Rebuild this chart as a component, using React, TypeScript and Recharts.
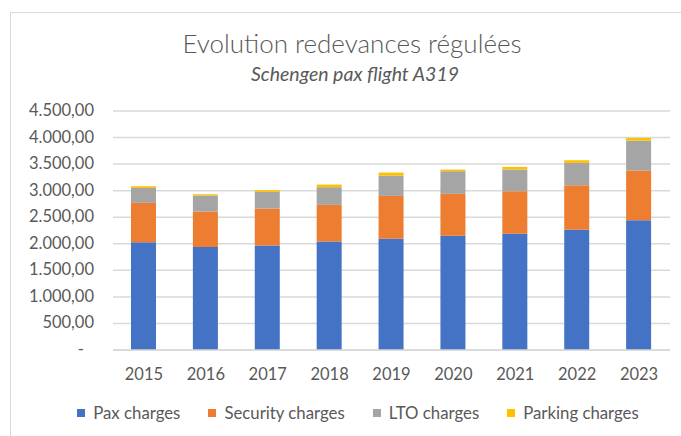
import { Bar, BarChart, CartesianGrid, XAxis, YAxis } from "recharts";

const years = ["2015", "2016", "2017", "2018", "2019", "2020", "2021", "2022", "2023"];
const paxCharges = [2030, 1937, 1969, 2044, 2093, 2150, 2188, 2263, 2445];
const securityCharges = [740, 671, 695, 689, 809, 790, 802, 840, 934];
const ltoCharges = [282, 301, 313, 332, 383, 426, 408, 419, 564];
const parkingCharges = [32, 24, 32, 50, 56, 31, 49, 51, 49];
const yTicks = [0, 500, 1000, 1500, 2000, 2500, 3000, 3500, 4000, 4500];

const series = [
  { key: "pax", name: "Pax charges", color: "#4472C4" },
  { key: "security", name: "Security charges", color: "#ED7D31" },
  { key: "lto", name: "LTO charges", color: "#A5A5A5" },
  { key: "parking", name: "Parking charges", color: "#FFC000" },
];

const data = years.map((year, i) => ({
  year,
  pax: paxCharges[i],
  security: securityCharges[i],
  lto: ltoCharges[i],
  parking: parkingCharges[i],
}));

const FONT = "Lato, 'Open Sans', sans-serif";
const TEXT = "#595959";

function formatEuro(v: number) {
  const [int, dec] = v.toFixed(2).split(".");
  return int.replace(/\B(?=(\d{3})+(?!\d))/g, ".") + "," + dec;
}

function YTick(props: any) {
  const { x, y, payload } = props;
  const v = payload.value as number;
  return (
    <text
      x={v === 0 ? x - 10 : x}
      y={y}
      dy={5}
      textAnchor="end"
      fill={TEXT}
      fontSize={16.5}
      fontFamily={FONT}
    >
      {v === 0 ? "-" : formatEuro(v)}
    </text>
  );
}

export default function App() {
  return (
    <div
      style={{
        position: "absolute",
        left: 0,
        top: 0,
        width: 681,
        height: 436,
        overflow: "hidden",
        background: "#fff",
        fontFamily: FONT,
      }}
    >
      <div
        style={{
          position: "absolute",
          left: 10,
          top: 12,
          width: 720,
          height: 460,
          border: "1.5px solid #d9d9d9",
          boxSizing: "border-box",
        }}
      />
      <div
        style={{
          position: "absolute",
          left: 352 - 300,
          width: 600,
          top: 27,
          textAlign: "center",
          fontSize: 26,
          fontWeight: 300,
          color: TEXT,
        }}
      >
        Evolution redevances régulées
      </div>
      <div
        style={{
          position: "absolute",
          left: 355 - 300,
          width: 600,
          top: 62,
          textAlign: "center",
          fontSize: 19.5,
          fontStyle: "italic",
          color: TEXT,
        }}
      >
        Schengen pax flight A319
      </div>
      <div style={{ position: "absolute", left: 0, top: 0 }}>
        <BarChart
          width={681}
          height={436}
          data={data}
          margin={{ top: 111, right: 11, bottom: 56, left: 0 }}
        >
          <CartesianGrid vertical={false} stroke="#d9d9d9" strokeWidth={1.5} />
          <XAxis
            dataKey="year"
            tickLine={false}
            axisLine={{ stroke: "#d9d9d9", strokeWidth: 1.5 }}
            tick={{ fill: TEXT, fontSize: 16.5, fontFamily: FONT }}
            tickMargin={12}
            height={30}
          />
          <YAxis
            width={113}
            domain={[0, 4500]}
            ticks={yTicks}
            interval={0}
            axisLine={false}
            tickLine={false}
            tickMargin={13}
            tick={<YTick />}
          />
          {series.map((s) => (
            <Bar
              key={s.key}
              dataKey={s.key}
              name={s.name}
              stackId="a"
              fill={s.color}
              barSize={25}
              isAnimationActive={false}
            />
          ))}
        </BarChart>
      </div>
      <div
        style={{
          position: "absolute",
          left: 358 - 340,
          width: 680,
          top: 402,
          display: "flex",
          justifyContent: "center",
          gap: 28,
          fontSize: 16.8,
          color: TEXT,
        }}
      >
        {series.map((s) => (
          <div key={s.key} style={{ display: "flex", alignItems: "center" }}>
            <span
              style={{
                display: "inline-block",
                width: 8,
                height: 8,
                background: s.color,
                marginRight: 8,
              }}
            />
            <span>{s.name}</span>
          </div>
        ))}
      </div>
    </div>
  );
}
